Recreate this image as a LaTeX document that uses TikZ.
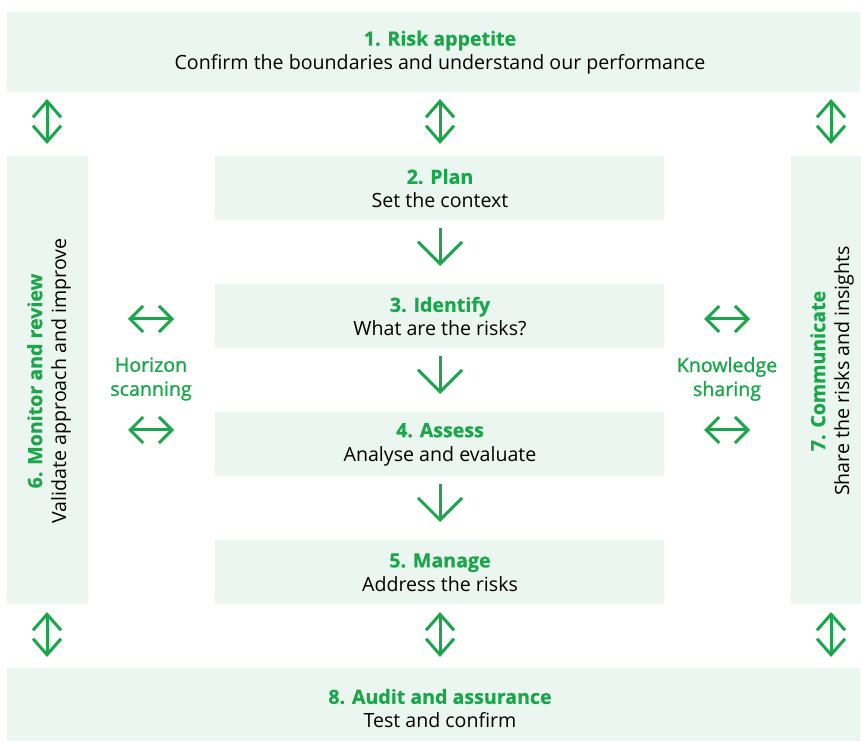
\documentclass[tikz,border=0pt]{standalone}
\usepackage{fontspec}
\setmainfont{Open Sans}[BoldFeatures={FakeBold=0.8}]
\newfontfamily\semifont[FakeBold=1.3]{Open Sans}
\usetikzlibrary{arrows.meta}
\definecolor{gr}{HTML}{1CA64C}
\definecolor{bx}{HTML}{ECF6F0}
\tikzset{
  box/.style={fill=bx, draw=none},
  lbl/.style={align=center, font=\fontsize{9.8}{12}\selectfont, text=black, inner sep=0pt},
  side/.style={align=center, font=\fontsize{9.8}{12}\selectfont\semifont, text=gr, inner sep=0pt},
  varr/.style={draw=gr, line width=1.5pt, {Straight Barb[length=8pt,width=14pt,line width=1.5pt]}-{Straight Barb[length=8pt,width=14pt,line width=1.5pt]}},
  harr/.style={draw=gr, line width=1.5pt, {Straight Barb[length=6.5pt,width=13pt,line width=1.5pt]}-{Straight Barb[length=6.5pt,width=13pt,line width=1.5pt]}},
  darr/.style={draw=gr, line width=1.5pt, -{Straight Barb[length=11pt,width=22pt,line width=1.5pt]}},
}
\newcommand{\ttl}[1]{\textcolor{gr}{\textbf{#1}}}
\begin{document}
\begin{tikzpicture}[x=0.5pt,y=-0.5pt]
\useasboundingbox (0,0) rectangle (861,742);
% boxes
\fill[box] (7,12) rectangle (860,92);
\fill[box] (7,156) rectangle (88,604);
\fill[box] (791,156) rectangle (861,604);
\fill[box] (215,156) rectangle (664,220);
\fill[box] (215,284) rectangle (664,348);
\fill[box] (215,412) rectangle (664,476);
\fill[box] (215,540) rectangle (664,604);
\fill[box] (7,668) rectangle (860,741);
% texts
\node[lbl] (t1) at (440,52.5) {\ttl{1. Risk appetite}\\Confirm the boundaries and understand our performance};
\node[lbl] (t2) at (440,188.5) {\ttl{2. Plan}\\Set the context};
\node[lbl] (t3) at (440,316.5) {\ttl{3. Identify}\\What are the risks?};
\node[lbl] (t4) at (440,444.5) {\ttl{4. Assess}\\Analyse and evaluate};
\node[lbl] (t5) at (440,572.5) {\ttl{5. Manage}\\Address the risks};
\node[lbl] (t8) at (440,708.5) {\ttl{8. Audit and assurance}\\Test and confirm};
\node[lbl, rotate=90] (t6) at (49,381) {\ttl{6. Monitor and review}\\Validate approach and improve};
\node[lbl, rotate=90] (t7) at (832,371) {\ttl{7. Communicate}\\Share the risks and insights};
\node[side] (hs) at (151,379) {Horizon\\scanning};
\node[side] (ks) at (727,379) {Knowledge\\sharing};
% coordinates for arrows
\coordinate (a1) at (47,99); \coordinate (a2) at (47,144);
\coordinate (b1) at (440,99); \coordinate (b2) at (440,144);
\coordinate (c1) at (831,99); \coordinate (c2) at (831,144);
\coordinate (d1) at (47,612); \coordinate (d2) at (47,657);
\coordinate (e1) at (440,612); \coordinate (e2) at (440,657);
\coordinate (f1) at (831,612); \coordinate (f2) at (831,657);
\draw[varr] (a1) -- (a2);
\draw[varr] (b1) -- (b2);
\draw[varr] (c1) -- (c2);
\draw[varr] (d1) -- (d2);
\draw[varr] (e1) -- (e2);
\draw[varr] (f1) -- (f2);
% down arrows
\coordinate (p1) at (440,228); \coordinate (p2) at (440,266);
\coordinate (q1) at (440,356); \coordinate (q2) at (440,394);
\coordinate (r1) at (440,484); \coordinate (r2) at (440,522);
\draw[darr] (p1) -- (p2);
\draw[darr] (q1) -- (q2);
\draw[darr] (r1) -- (r2);
% horizontal arrows
\coordinate (h1) at (128,319); \coordinate (h2) at (174,319);
\coordinate (h3) at (128,430); \coordinate (h4) at (174,430);
\coordinate (k1) at (704,319); \coordinate (k2) at (750,319);
\coordinate (k3) at (704,430); \coordinate (k4) at (750,430);
\draw[harr] (h1) -- (h2);
\draw[harr] (h3) -- (h4);
\draw[harr] (k1) -- (k2);
\draw[harr] (k3) -- (k4);
\end{tikzpicture}
\end{document}
